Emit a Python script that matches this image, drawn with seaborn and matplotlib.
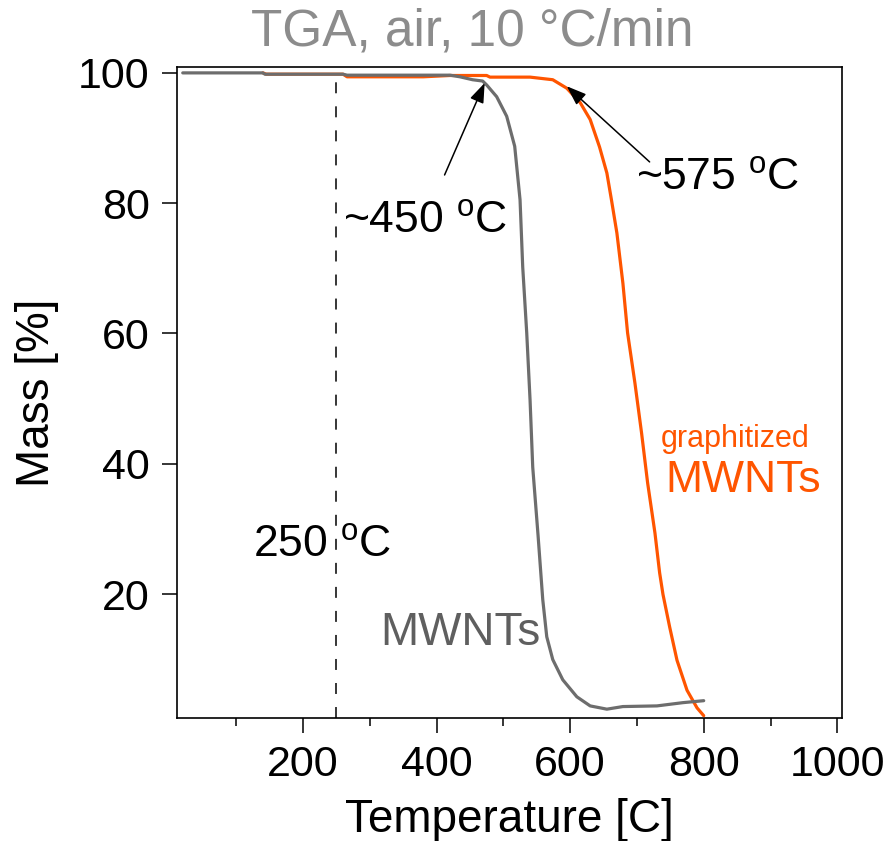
import numpy as np
import pandas as pd
import matplotlib
matplotlib.use("Agg")
import matplotlib.pyplot as plt
from matplotlib.ticker import MultipleLocator
import seaborn as sns

# --- TGA data (temperature in C, remaining mass in %) ---
mwnt_temp = [20, 140, 143, 260, 266, 420, 435, 454, 469, 475, 490, 505, 517,
             525, 529, 535, 540, 544, 552, 559, 565, 574, 589, 610, 630, 655,
             679, 730, 769, 800]
mwnt_mass = [99.95, 99.95, 99.75, 99.75, 99.6, 99.6, 99.35, 98.9, 98.7, 98.1,
             96.3, 93.3, 88.7, 80.5, 70.2, 60.1, 49.8, 39.5, 29.0, 19.2, 13.5,
             10.0, 6.9, 4.3, 2.9, 2.4, 2.8, 2.9, 3.4, 3.7]

graph_temp = [140, 145, 260, 266, 380, 420, 475, 480, 540, 574, 595, 615, 630,
              644, 655, 662, 670, 679, 686, 697, 707, 716, 727, 734, 739, 749,
              760, 775, 790, 800]
graph_mass = [99.95, 99.75, 99.75, 99.35, 99.35, 99.55, 99.55, 99.3, 99.3,
              98.9, 97.6, 95.4, 92.8, 88.6, 84.6, 80.4, 75.4, 67.7, 60.1, 52.4,
              44.7, 37.1, 29.4, 23.3, 20.0, 15.0, 9.9, 5.3, 2.6, 1.4]

# onset markers: (arrow tip, arrow tail, label anchor)
onset_mwnt = {"tip": (472, 98.4), "tail": (412, 84.3), "label": (260, 75.4),
              "text": "~450 $^{\\mathrm{o}}$C"}
onset_graph = {"tip": (595, 97.9), "tail": (719, 86.3), "label": (698, 82.0),
               "text": "~575 $^{\\mathrm{o}}$C"}
ref_temp = 250
ref_top = 99.6

GRAY = "#6d6d6d"
ORANGE = "#ff5500"

sns.set_style("ticks")
plt.rcParams["font.family"] = ["Liberation Sans", "DejaVu Sans"]
plt.rcParams["mathtext.fontset"] = "custom"
plt.rcParams["mathtext.rm"] = "Liberation Sans"
plt.rcParams["mathtext.it"] = "Liberation Sans:italic"
plt.rcParams["lines.scale_dashes"] = False
plt.rcParams["text.color"] = "black"
plt.rcParams["axes.labelcolor"] = "black"

fig = plt.figure(figsize=(8.94, 8.41), dpi=100)
ax = fig.add_axes([0.1977, 0.1459, 0.7441, 0.7748])

df_mwnt = pd.DataFrame({"T": mwnt_temp, "m": mwnt_mass})
df_graph = pd.DataFrame({"T": graph_temp, "m": graph_mass})

sns.lineplot(data=df_graph, x="T", y="m", color=ORANGE, lw=2.3, ax=ax,
             sort=False, zorder=3)
sns.lineplot(data=df_mwnt, x="T", y="m", color=GRAY, lw=2.3, ax=ax,
             sort=False, zorder=4)

ax.set_xlim(11, 1007)
ax.set_ylim(1.0, 100.9)

# 250 C reference line
ax.vlines(ref_temp, 1.0, ref_top, colors="black", lw=1.1,
          linestyles=[(0, (7.9, 9.4))], zorder=2)

# onset arrows and labels
for d in (onset_mwnt, onset_graph):
    ax.annotate("", xy=d["tip"], xytext=d["tail"],
                arrowprops=dict(arrowstyle="-|>,head_length=0.6,head_width=0.22",
                                mutation_scale=20, color="black", lw=1.1,
                                shrinkA=0, shrinkB=0), zorder=5)
    ax.text(*d["label"], d["text"], fontsize=32, ha="left", va="baseline",
            color="black")

ax.text(125, 25.8, "250 $^{\\mathrm{o}}$C", fontsize=32, ha="left",
        va="baseline", color="black")
ax.text(316, 12.2, "MWNTs", fontsize=33, ha="left", va="baseline",
        color="#5f5f5f")
ax.text(735, 42.6, "graphitized", fontsize=22, ha="left", va="baseline",
        color=ORANGE)
ax.text(742, 35.7, "MWNTs", fontsize=32, ha="left", va="baseline",
        color=ORANGE)

# axes styling
ax.xaxis.set_major_locator(MultipleLocator(200))
ax.xaxis.set_minor_locator(MultipleLocator(100))
ax.yaxis.set_major_locator(MultipleLocator(20))
ax.tick_params(axis="both", which="major", direction="out", length=10.5,
               width=1.1, color="black", labelsize=31, pad=9,
               labelcolor="black")
ax.tick_params(axis="x", which="minor", direction="out", length=6,
               width=1.1, color="black")
for side in ("left", "right", "top", "bottom"):
    ax.spines[side].set_visible(True)
    ax.spines[side].set_color("black")
    ax.spines[side].set_linewidth(1.2)

ax.set_xlabel("Temperature [C]", fontsize=33, labelpad=9, color="black")
ax.set_ylabel("Mass [%]", fontsize=33, labelpad=14, color="black")

fig.text(472 / 894, 1 - 45 / 841, "TGA, air, 10 °C/min", fontsize=37,
         color="#8c8c8c", ha="center", va="baseline")

fig.savefig("out.png", dpi=100)
